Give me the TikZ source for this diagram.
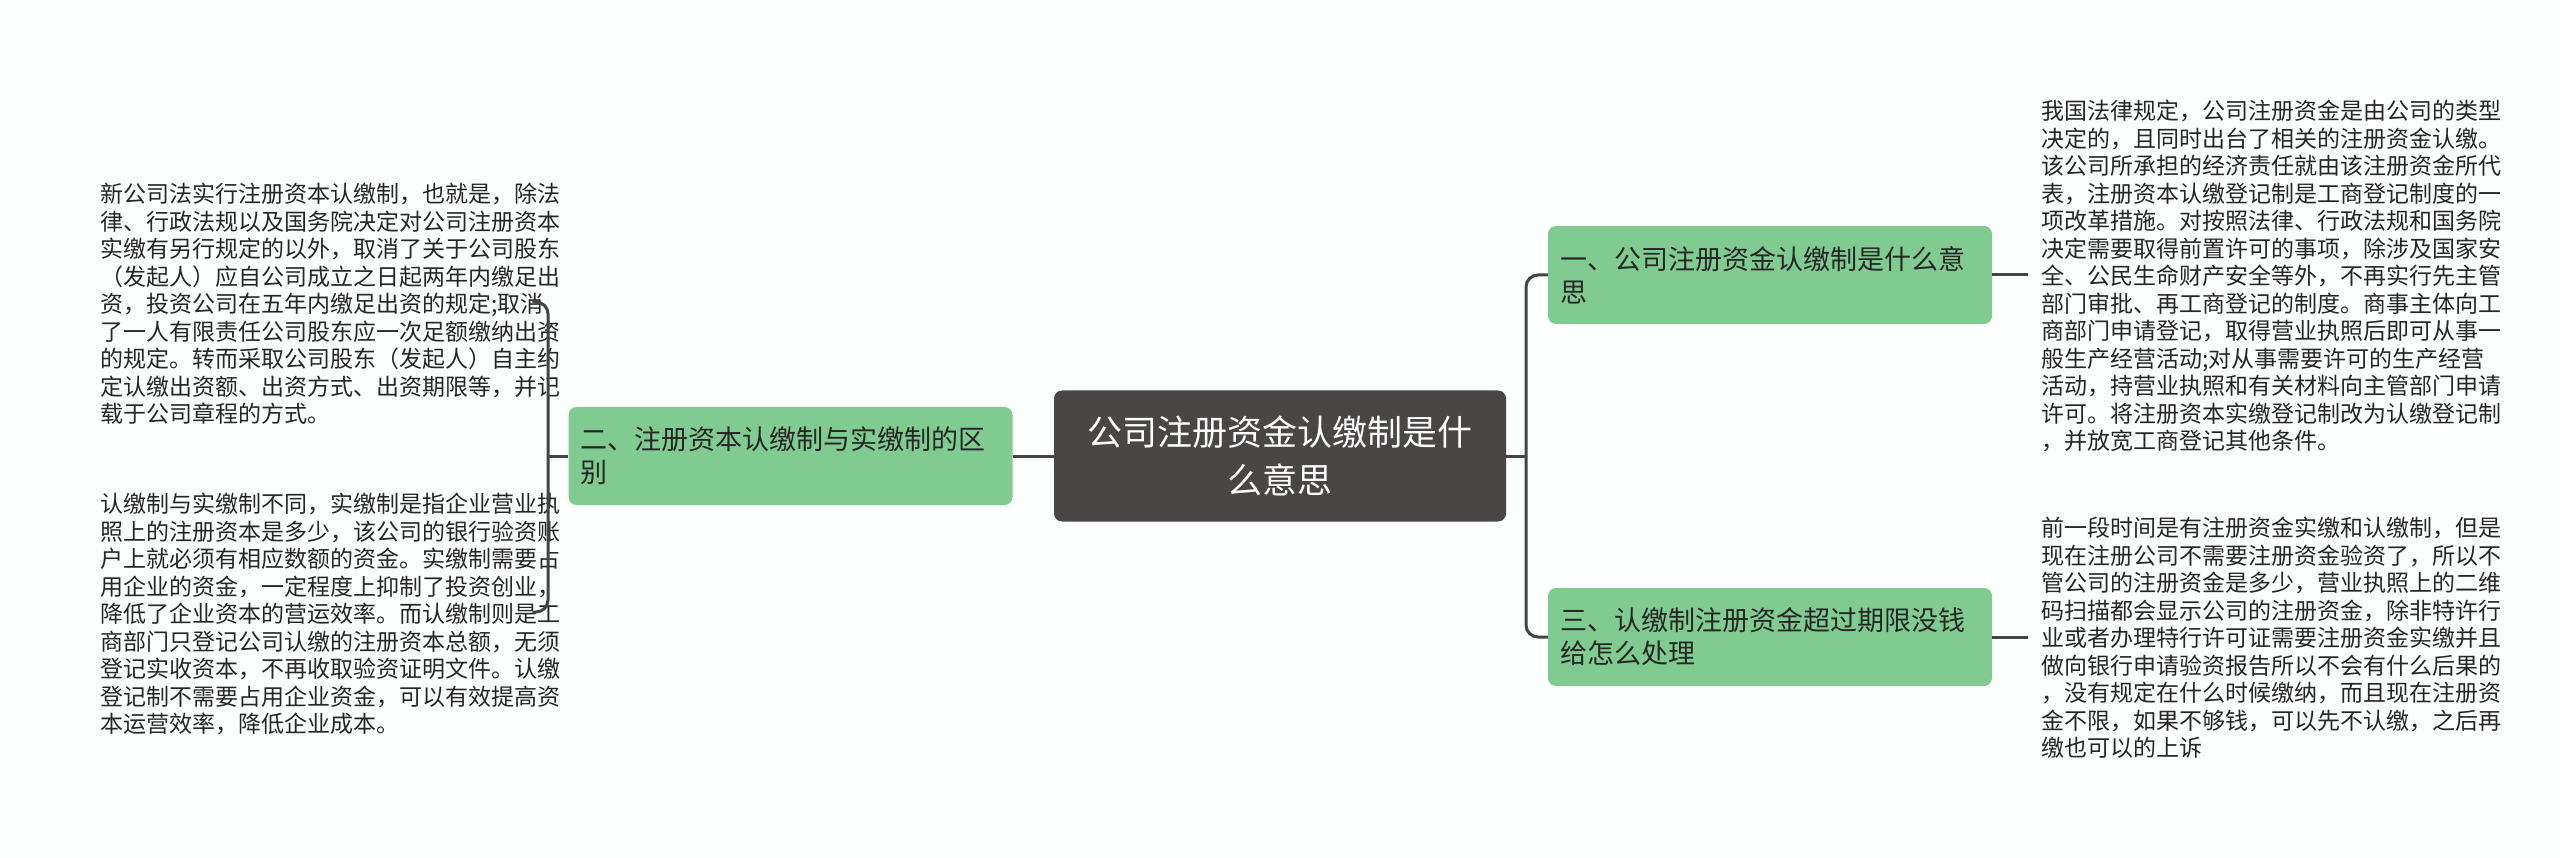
\documentclass[tikz,border=0pt]{standalone}
\usepackage{fontspec}
\setmainfont{Noto Sans CJK SC}
\definecolor{bgc}{HTML}{FDFEFE}
\definecolor{greenc}{HTML}{80CC90}
\definecolor{darkc}{HTML}{4A4646}
\definecolor{linec}{HTML}{444444}
\tikzset{
 branch/.style={fill=greenc, rounded corners=8pt, minimum width=444pt, minimum height=98pt, text width=420pt, align=left, inner sep=0pt, font=\fontsize{27}{33}\selectfont, text=black!85},
 central/.style={fill=darkc, rounded corners=8pt, minimum width=452pt, minimum height=131pt, text width=420pt, align=center, inner sep=0pt, font=\fontsize{35}{48}\selectfont, text=white},
 desc/.style={text width=420pt, align=left, inner sep=0pt, font=\fontsize{23}{27.5}\selectfont, text=black!85},
 conn/.style={draw=linec, line width=3pt, rounded corners=12pt}
}
\begin{document}
\begin{tikzpicture}[x=1pt,y=-1pt]
\fill[bgc] (0,0) rectangle (2560,858);
\useasboundingbox (0,0) rectangle (2560,858);
\node[central] (c) at (1280,456) {公司注册资金认缴制是什\\么意思};
\node[branch] (b2) at (790.5,456) {二、注册资本认缴制与实缴制的区\\别};
\node[branch] (b1) at (1770,275) {一、公司注册资金认缴制是什么意\\思};
\node[branch] (b3) at (1770,637) {三、认缴制注册资金超过期限没钱\\给怎么处理};
\node[desc, anchor=west] (t1) at (2041,276) {我国法律规定，公司注册资金是由公司的类型\\决定的，且同时出台了相关的注册资金认缴。\\该公司所承担的经济责任就由该注册资金所代\\表，注册资本认缴登记制是工商登记制度的一\\项改革措施。对按照法律、行政法规和国务院\\决定需要取得前置许可的事项，除涉及国家安\\全、公民生命财产安全等外，不再实行先主管\\部门审批、再工商登记的制度。商事主体向工\\商部门申请登记，取得营业执照后即可从事一\\般生产经营活动;对从事需要许可的生产经营\\活动，持营业执照和有关材料向主管部门申请\\许可。将注册资本实缴登记制改为认缴登记制\\，并放宽工商登记其他条件。};
\node[desc, anchor=west] (t3) at (2041,638) {前一段时间是有注册资金实缴和认缴制，但是\\现在注册公司不需要注册资金验资了，所以不\\管公司的注册资金是多少，营业执照上的二维\\码扫描都会显示公司的注册资金，除非特许行\\业或者办理特行许可证需要注册资金实缴并且\\做向银行申请验资报告所以不会有什么后果的\\，没有规定在什么时候缴纳，而且现在注册资\\金不限，如果不够钱，可以先不认缴，之后再\\缴也可以的上诉};
\node[desc, anchor=west] (t2a) at (100,304) {新公司法实行注册资本认缴制，也就是，除法\\律、行政法规以及国务院决定对公司注册资本\\实缴有另行规定的以外，取消了关于公司股东\\（发起人）应自公司成立之日起两年内缴足出\\资，投资公司在五年内缴足出资的规定;取消\\了一人有限责任公司股东应一次足额缴纳出资\\的规定。转而采取公司股东（发起人）自主约\\定认缴出资额、出资方式、出资期限等，并记\\载于公司章程的方式。};
\node[desc, anchor=west] (t2b) at (100,614) {认缴制与实缴制不同，实缴制是指企业营业执\\照上的注册资本是多少，该公司的银行验资账\\户上就必须有相应数额的资金。实缴制需要占\\用企业的资金，一定程度上抑制了投资创业，\\降低了企业资本的营运效率。而认缴制则是工\\商部门只登记公司认缴的注册资本总额，无须\\登记实收资本，不再收取验资证明文件。认缴\\登记制不需要占用企业资金，可以有效提高资\\本运营效率，降低企业成本。};
\coordinate (jr) at (1526,456);
\coordinate (jl) at (548,456);
\draw[conn] (c.east) -- (jr);
\draw[conn] (b1.west) -| (jr) |- (b3.west);
\draw[conn] (c.west) -- (b2.east);
\draw[conn] (b2.west) -- (jl);
\draw[conn] ([xshift=12pt]t2a.east |- 0,302) -| (jl) |- ([xshift=12pt]t2b.east |- 0,612);
\draw[conn] (b1.east) -- ([xshift=-13pt]t1.west |- b1.east);
\draw[conn] (b3.east) -- ([xshift=-13pt]t3.west |- b3.east);
\end{tikzpicture}
\end{document}
